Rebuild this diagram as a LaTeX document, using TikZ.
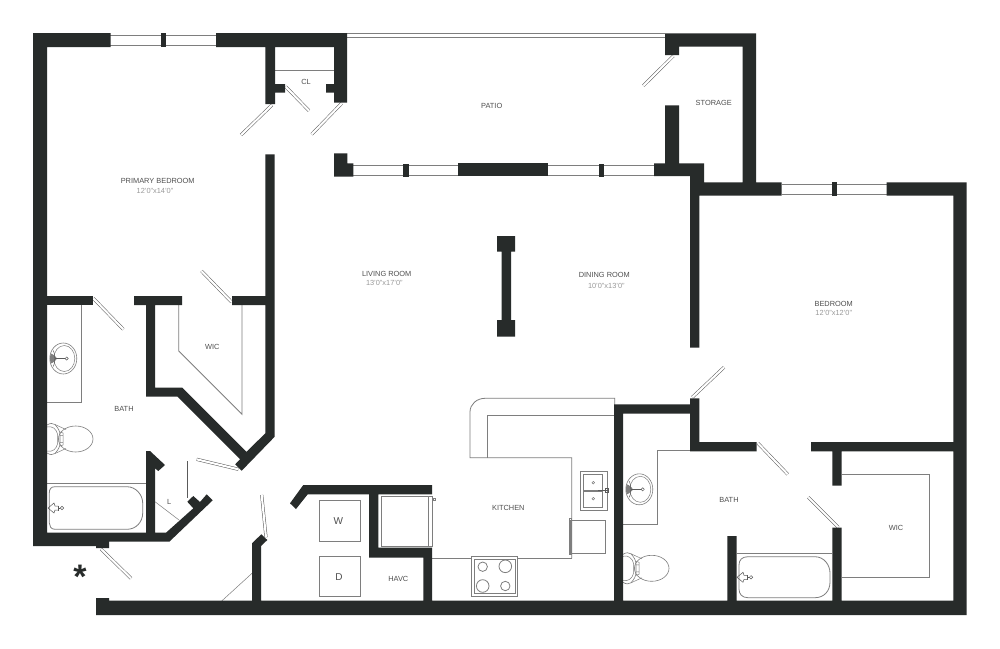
\documentclass[tikz,border=0pt]{standalone}
\usepackage{fontspec}
\setmainfont{Liberation Sans}
\definecolor{wallc}{HTML}{272B2A}
\definecolor{linec}{HTML}{7E7E7E}
\definecolor{doorc}{HTML}{5A5A5A}
\definecolor{labelc}{HTML}{505050}
\definecolor{dimc}{HTML}{999999}
\tikzset{
  wall/.style={fill=wallc,draw=none},
  fix/.style={draw=linec,line width=0.8pt,fill=none},
  thin fix/.style={draw=linec,line width=0.5pt,fill=none},
  winline/.style={draw=linec,line width=0.9pt},
  leaf/.style={draw=doorc,line width=0.5pt,double=white,double distance=2.1pt,line cap=butt},
  roomlabel/.style={font=\fontsize{7.4}{8}\selectfont,text=labelc,inner sep=0pt},
  dimlabel/.style={font=\fontsize{7.4}{8}\selectfont,text=dimc,inner sep=0pt}
}
\newcommand\basinfix[2]{%
  \begin{scope}[shift={(#1,#2)}]
    \draw[fix,line width=.6pt] (0,0) ellipse (13.5 and 15.5);
    \draw[thin fix] (1,0) ellipse (10.5 and 13);
    \fill[linec] (-12.5,-5) .. controls (-9,-4) and (-9,-2) .. (-7,-1.2) -- (-7,1.2) .. controls (-9,2) and (-9,4) .. (-12.5,5) .. controls (-13.5,2) and (-13.5,-2) .. (-12.5,-5) -- cycle;
    \draw[thin fix,draw=doorc,line width=1.1pt] (-8,0) -- (2,0);
    \draw[thin fix,draw=doorc] (-10,-8) .. controls (-8,-5) and (-8,5) .. (-10,8);
    \draw[thin fix,draw=doorc] (3.4,0) circle (1.6);
  \end{scope}}
\newcommand\toiletfix[2]{%
  \begin{scope}[shift={(#1,#2)}]
    \draw[fix,line width=.6pt] (0,-14) .. controls (3,-16) and (6,-16) .. (8,-14.5) .. controls (11,-11) and (13,-8) .. (13,-4) -- (13,4) .. controls (13,8) and (11,11) .. (8,14.5) .. controls (6,16) and (3,16) .. (0,14);
    \draw[thin fix] (0,-12) .. controls (5,-13.5) and (9.5,-10) .. (10.5,-5) -- (10.5,5) .. controls (9.5,10) and (5,13.5) .. (0,12);
    \draw[thin fix] (8,-14.5) -- (19,-9.5) (8,14.5) -- (19,9.5);
    \draw[thin fix] (13,-7) -- (16,-6) -- (16,6) -- (13,7) (13,-3.5) -- (16,-3.5) (13,3.5) -- (16,3.5);
    \draw[fix,line width=.6pt] (28.7,0) ellipse (17.3 and 13);
  \end{scope}}
\newcommand\drainfix[2]{%
  \begin{scope}[shift={(#1,#2)}]
    \draw[thin fix,draw=doorc] (1,0) -- (7,-5) -- (8,-2) -- (11,-2) (1,0) -- (7,5) -- (8,2) -- (11,2);
    \draw[thin fix,draw=doorc] (11,-2.5) -- (11,2.5) (11,0) -- (13,0);
    \draw[thin fix,draw=doorc] (15,0) circle (1.7);
  \end{scope}}
\begin{document}
\begin{tikzpicture}[x=1pt,y=-1pt]
\useasboundingbox (0,0) rectangle (1000,648);
\fill[white] (0,0) rectangle (1000,648);

% ---- thin fixtures (below the walls)
% windows
\draw[winline] (110,35.3) -- (216,35.3) (110,45.3) -- (216,45.3);
\draw[winline] (782,184.7) -- (887,184.7) (782,194.7) -- (887,194.7);
\draw[winline] (353,165) -- (459,165) (353,175.3) -- (459,175.3);
\draw[winline] (548,165) -- (654,165) (548,175.3) -- (654,175.3);
\draw[winline,line width=.7pt] (347,33.7) -- (665,33.7) (347,37) -- (665,37);
% closet shelf
\draw[fix] (275,70.7) -- (334,70.7);
% primary bath
\draw[fix] (81.7,305) -- (81.7,402) -- (47,402);
\draw[fix] (47,483) -- (146,483);
\draw[fix] (55,486.7) -- (127,486.7) .. controls (136,486.7) and (142.7,495) .. (142.7,503) -- (142.7,513) .. controls (142.7,522) and (136,529.3) .. (127,529.3) -- (55,529.3) .. controls (51,529.3) and (49.3,526) .. (49.3,523) -- (49.3,493) .. controls (49.3,489) and (51,486.7) .. (55,486.7) -- cycle;
\drainfix{47}{508}
\basinfix{63.3}{358.5}
\toiletfix{47}{439}
% WIC 1
\draw[fix] (178.7,305) -- (178.7,351) -- (242,414.3) -- (242,305);
% linen
\draw[thin fix] (155,501.7) -- (179,520);
% hall diagonal
\draw[thin fix] (221.7,601) -- (252,573.3);
% laundry
\draw[fix] (319.3,500.3) rectangle (360.3,541);
\draw[fix] (319.3,556) rectangle (360.5,596.7);
% fridge
\draw[fix] (381.3,496.7) rectangle (432.7,546);
\draw[thin fix] (428.7,496.7) -- (428.7,546);
\draw[thin fix] (433,498) rectangle (435.5,500);
% kitchen counters
\draw[fix] (571.7,558.3) -- (571.7,457.7) -- (470,457.7) -- (470,412) .. controls (470,404) and (477,398.3) .. (485,398.3) -- (614.7,398.3) -- (614.7,405);
\draw[fix] (487,457.7) -- (487,415.7) -- (614.7,415.7);
\draw[fix] (432,558.3) -- (471.7,558.3) (517.7,558.3) -- (571.7,558.3);
% kitchen sink
\draw[fix] (580.7,471.7) rectangle (607.3,510);
\draw[thin fix] (583.3,474.3) rectangle (602.7,490);
\draw[thin fix] (583.3,491) rectangle (602.7,507.3);
\draw[thin fix] (593.3,482.7) circle (1.3) (593.3,498.7) circle (1.3);
\draw[thin fix,draw=doorc,line width=.9pt] (598,490.5) -- (608,490.5);
\draw[thin fix,draw=doorc] (605,488.5) rectangle (608.5,492.5);
% dishwasher
\draw[fix] (570,520) rectangle (605,553.3);
\draw[fix] (569,518) rectangle (571,554);
% stove
\draw[fix,fill=white] (471.7,556.7) rectangle (517.3,596);
\draw[fix] (474,559) rectangle (515,593.7);
\draw[fix] (482.7,566.7) circle (4.7) (505.3,566.3) circle (6.3) (482.7,586) circle (6.3) (505.3,586) circle (4.7);
% second bath
\draw[fix] (623,524.3) -- (657.7,524.3) -- (657.7,450.7) -- (690,450.7);
\draw[fix] (736.7,553) -- (832.3,553);
\draw[fix] (748,556.7) -- (815,556.7) .. controls (824,556.7) and (830,565) .. (830,573) -- (830,582) .. controls (830,591) and (824,597.7) .. (815,597.7) -- (748,597.7) .. controls (742,597.7) and (739,594) .. (739,589) -- (739,565) .. controls (739,560) and (742,556.7) .. (748,556.7) -- cycle;
\drainfix{736}{577.3}
\basinfix{639.3}{489.3}
\toiletfix{623}{568.3}
% WIC 2
\draw[fix] (841.7,474.7) -- (929.3,474.7) -- (929.3,577.3) -- (841.7,577.3);

% ---- door leaves
\draw[leaf] (272,105) -- (241,135);
\draw[leaf] (285.7,86.7) -- (309,110.7);
\draw[leaf] (341.7,103.3) -- (311.7,134.3);
\draw[leaf] (673.3,56) -- (643.3,85.7);
\draw[leaf] (201.5,271) -- (231.5,302);
\draw[leaf] (93.3,298.3) -- (123.3,329.3);
\draw[leaf] (196.7,459.3) -- (238.3,469.3);
\draw[leaf] (188.7,460.7) -- (188.7,498.3);
\draw[leaf] (101,549) -- (131,578.3);
\draw[leaf] (261.7,495) -- (266,537.3);
\draw[leaf] (692.3,397.3) -- (724,367.3);
\draw[leaf] (758,443.3) -- (787.7,474.3);
\draw[leaf] (838.3,527.3) -- (808.3,497.3);

% ---- walls
% top left & primary bedroom outer
\fill[wall] (33,33) -- (110.7,33) -- (110.7,47) -- (47,47) -- (47,532.7) -- (146,532.7) -- (146,451) -- (150,451) -- (165,465) -- (158.3,471) -- (155,468.3) -- (155,532.7) -- (166,532.7) -- (193.3,508.3) -- (187.3,501.7) -- (193.3,496) -- (200,502) -- (206.7,494.3) -- (212.7,500.3) -- (169.3,541.7) -- (109,541.7) -- (109,548) -- (96,548) -- (96,546) -- (33,546) -- cycle;
\fill[wall] (161,33) rectangle (166,47);
% top wall and closet
\fill[wall] (216,33) -- (347,33) -- (347,102.7) -- (334,102.7) -- (334,92.7) -- (326,92.7) -- (326,84) -- (334,84) -- (334,47) -- (275,47) -- (275,84) -- (285,84) -- (285,92.7) -- (275,92.7) -- (275,104) -- (265.3,104) -- (265.3,47) -- (216,47) -- cycle;
% bedroom partition and WIC
\fill[wall] (265.3,154.3) -- (274.7,154.3) -- (274.7,436.7) -- (241.7,470.7) -- (235.2,464.3) -- (240.2,459.2) -- (177.5,396.7) -- (146,396.7) -- (146,305) -- (134,305) -- (134,296) -- (182,296) -- (182,305) -- (155,305) -- (155,387.7) -- (182.4,387.7) -- (246.5,451.8) -- (265.3,433.3) -- (265.3,305) -- (232,305) -- (232,296) -- (265.3,296) -- cycle;
\fill[wall] (46.7,296) rectangle (92.7,305);
% patio wall
\fill[wall] (334,153.3) -- (347.3,153.3) -- (347.3,163.3) -- (353.3,163.3) -- (353.3,176.7) -- (334,176.7) -- cycle;
\fill[wall] (403.3,163.7) rectangle (408.7,177);
\fill[wall] (458.3,163) rectangle (548.3,176.3);
\fill[wall] (599,163.7) rectangle (604,177);
% storage
\fill[wall] (665,33.3) -- (756,33.3) -- (756,182.3) -- (781.7,182.3) -- (781.7,195.7) -- (699.3,195.7) -- (699.3,347.7) -- (690,347.7) -- (690,176) -- (654,176) -- (654,163.3) -- (665,163.3) -- (665,105.3) -- (679,105.3) -- (679,163.3) -- (704,163.3) -- (704,182.3) -- (742.7,182.3) -- (742.7,46.7) -- (679,46.7) -- (679,55) -- (665,55) -- cycle;
% right & bottom
\fill[wall] (886.7,182.3) -- (966.7,182.3) -- (966.7,615) -- (96,615) -- (96,598) -- (109,598) -- (109,600.7) -- (252,600.7) -- (252,543.3) -- (261.3,534.3) -- (267.3,540) -- (261,546) -- (261,600.7) -- (423.3,600.7) -- (423.3,557.7) -- (369,557.7) -- (369,494.3) -- (307.7,494.3) -- (296,509) -- (290,503.3) -- (303.3,485) -- (432,485) -- (432,494.3) -- (378.3,494.3) -- (378.3,547.7) -- (432,547.7) -- (432,600.7) -- (614,600.7) -- (614,404.3) -- (690,404.3) -- (690,398.3) -- (699.3,398.3) -- (699.3,442) -- (756.7,442) -- (756.7,451.3) -- (690,451.3) -- (690,413.7) -- (623,413.7) -- (623,600.7) -- (727.3,600.7) -- (727.3,536) -- (736.7,536) -- (736.7,600.7) -- (832.3,600.7) -- (832.3,527.7) -- (841.7,527.7) -- (841.7,600.7) -- (953.3,600.7) -- (953.3,451.3) -- (841.7,451.3) -- (841.7,485.7) -- (832.3,485.7) -- (832.3,451.3) -- (811,451.3) -- (811,442) -- (953.3,442) -- (953.3,195.7) -- (886.7,195.7) -- cycle;
\fill[wall] (832,182.3) rectangle (837,195.7);
% column
\fill[wall] (497,236) -- (515,236) -- (515,251.7) -- (511,251.7) -- (511,320) -- (515,320) -- (515,336.7) -- (497,336.7) -- (497,320) -- (501.7,320) -- (501.7,251.7) -- (497,251.7) -- cycle;

% ---- labels
\node[roomlabel] (l1) at (157.7,180.7) {PRIMARY BEDROOM};
\node[dimlabel] (d1) at (155,191) {12'0"x14'0"};
\node[roomlabel] (l2) at (306,81.7) {CL};
\node[roomlabel] (l3) at (491.7,105.7) {PATIO};
\node[roomlabel] (l4) at (713.7,103) {STORAGE};
\node[roomlabel] (l5) at (386.7,274) {LIVING ROOM};
\node[dimlabel] (d5) at (384.3,283.3) {13'0"x17'0"};
\node[roomlabel] (l6) at (604.3,275.3) {DINING ROOM};
\node[dimlabel] (d6) at (606.3,286) {10'0"x13'0"};
\node[roomlabel] (l7) at (833.7,303.7) {BEDROOM};
\node[dimlabel] (d7) at (833.7,313.3) {12'0"x12'0"};
\node[roomlabel] (l8) at (212.3,346.7) {WIC};
\node[roomlabel] (l9) at (124,409.3) {BATH};
\node[roomlabel] (l10) at (169.3,502.3) {L};
\node[roomlabel] (l11) at (508.3,508.3) {KITCHEN};
\node[roomlabel] (l12) at (398.3,579) {HAVC};
\node[roomlabel,font=\fontsize{10}{12}\selectfont] (l13) at (338.3,521) {W};
\node[roomlabel,font=\fontsize{10}{12}\selectfont] (l14) at (339,576.7) {D};
\node[roomlabel] (l15) at (729,500) {BATH};
\node[roomlabel] (l16) at (896,528) {WIC};
\node[inner sep=0pt,text=wallc,font=\fontsize{34}{34}\bfseries] (star) at (80,576.5) {*};
\end{tikzpicture}
\end{document}
